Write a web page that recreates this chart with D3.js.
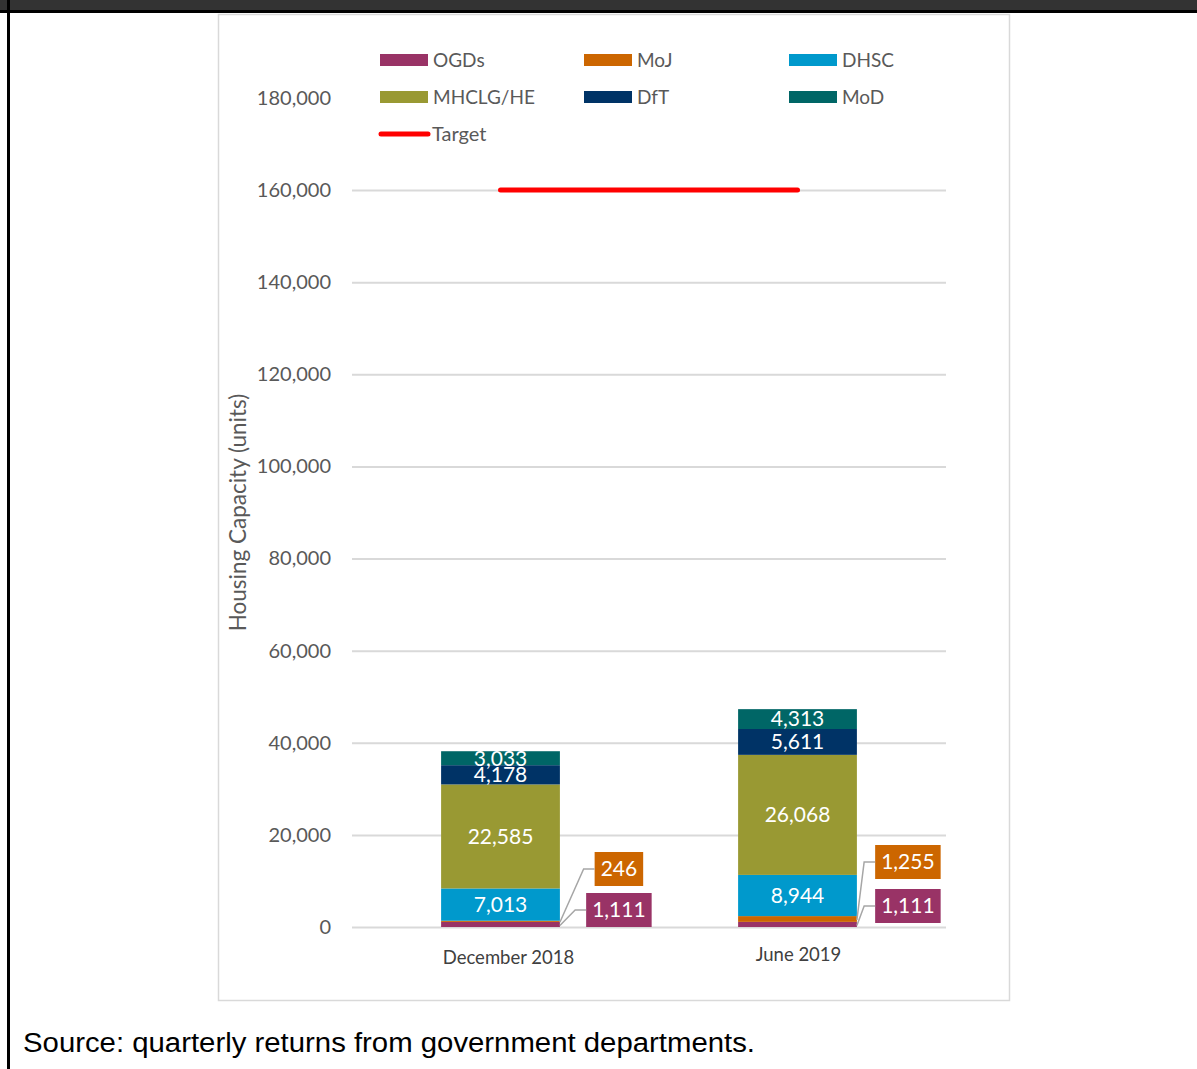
<!DOCTYPE html>
<html>
<head>
<meta charset="utf-8">
<script src="https://cdn.jsdelivr.net/npm/d3@7"></script>
<style>
  body { margin: 0; background: #fff; }
  svg { display: block; }
</style>
</head>
<body>
<div id="chart"></div>
<script>
// Chart data
const categories = ['December 2018', 'June 2019'];
const seriesNames = ['OGDs', 'MoJ', 'DHSC', 'MHCLG/HE', 'DfT', 'MoD'];
const ogdsValues = [1111, 1111];
const mojValues = [246, 1255];
const dhscValues = [7013, 8944];
const mhclgValues = [22585, 26068];
const dftValues = [4178, 5611];
const modValues = [3033, 4313];
const targetValue = 160000;
const yTickValues = [0, 20000, 40000, 60000, 80000, 100000, 120000, 140000, 160000, 180000];

const seriesColors = ['#993366', '#cc6600', '#0099cc', '#999933', '#003366', '#006666'];

// rows for the stack
const rows = categories.map((c, i) => ({
  category: c,
  'OGDs': ogdsValues[i],
  'MoJ': mojValues[i],
  'DHSC': dhscValues[i],
  'MHCLG/HE': mhclgValues[i],
  'DfT': dftValues[i],
  'MoD': modValues[i],
}));

const W = 1197, H = 1069;
const plot = { left: 352, right: 946, top: 98, bottom: 927 };
const FONT = 'Lato, "Open Sans", sans-serif';

const svg = d3.select('#chart').append('svg')
  .attr('width', W).attr('height', H);

// page frame
svg.append('rect').attr('x', 0).attr('y', 0).attr('width', W).attr('height', 10).attr('fill', '#333333');
svg.append('rect').attr('x', 0).attr('y', 10).attr('width', W).attr('height', 3).attr('fill', '#000');
svg.append('rect').attr('x', 7).attr('y', 0).attr('width', 3).attr('height', H).attr('fill', '#000');

// chart area border
svg.append('rect')
  .attr('x', 218.5).attr('y', 14.5).attr('width', 791).attr('height', 986)
  .attr('fill', '#fff').attr('stroke', '#d9d9d9').attr('stroke-width', 1.5);

const x = d3.scaleBand().domain(categories)
  .range([plot.left, plot.right]).paddingInner(0.6).paddingOuter(0.3);
const y = d3.scaleLinear().domain([0, 180000]).range([plot.bottom, plot.top]);

// gridlines + y tick labels
const yAxis = d3.axisLeft(y).tickValues(yTickValues)
  .tickSize(-(plot.right - plot.left)).tickPadding(21)
  .tickFormat(d3.format(','));
const gy = svg.append('g').attr('transform', `translate(${plot.left},0)`).call(yAxis);
gy.select('.domain').remove();
gy.selectAll('.tick line').attr('stroke', '#d9d9d9').attr('stroke-width', 2)
  .filter(d => d === 180000).remove();
gy.selectAll('.tick text').attr('fill', '#595959')
  .style('font-family', FONT).style('font-size', '20px');

// y axis title
svg.append('text')
  .attr('transform', `translate(246,${(plot.top + plot.bottom) / 2}) rotate(-90)`)
  .attr('text-anchor', 'middle')
  .attr('fill', '#595959')
  .style('font-family', FONT).style('font-size', '22.5px')
  .text('Housing Capacity (units)');

// stacked bars
const stacked = d3.stack().keys(seriesNames)(rows);
const color = d3.scaleOrdinal().domain(seriesNames).range(seriesColors);

const layers = svg.append('g').selectAll('g').data(stacked).join('g')
  .attr('fill', d => color(d.key));
layers.selectAll('rect').data(d => d).join('rect')
  .attr('x', d => x(d.data.category))
  .attr('width', x.bandwidth())
  .attr('y', d => y(d[1]))
  .attr('height', d => y(d[0]) - y(d[1]));

// labels inside bars (DHSC and up)
const inside = stacked.filter(s => ['DHSC', 'MHCLG/HE', 'DfT', 'MoD'].includes(s.key));
inside.forEach(s => {
  svg.append('g').selectAll('text').data(s).join('text')
    .attr('x', d => x(d.data.category) + x.bandwidth() / 2)
    .attr('y', d => (y(d[0]) + y(d[1])) / 2)
    .attr('dy', '0.35em')
    .attr('text-anchor', 'middle')
    .attr('fill', '#fff')
    .style('font-family', FONT).style('font-size', '21px')
    .text(d => d3.format(',')(d[1] - d[0]));
});

// callout labels for the thin OGDs / MoJ segments
const calloutCenterDx = [59, 51];          // box centre offset from bar right edge
const calloutDy = { 'MoJ': [-58, -65], 'OGDs': [-17, -21] }; // box centre offset from y(0)
['MoJ', 'OGDs'].forEach(key => {
  const s = stacked.find(t => t.key === key);
  s.forEach((d, i) => {
    const barRight = x(d.data.category) + x.bandwidth();
    const cx = barRight + calloutCenterDx[i];
    const cy = y(0) + calloutDy[key][i];
    const g = svg.append('g');
    const t = g.append('text')
      .attr('x', cx).attr('y', cy).attr('dy', '0.35em')
      .attr('text-anchor', 'middle').attr('fill', '#fff')
      .style('font-family', FONT).style('font-size', '21px')
      .text(d3.format(',')(d[1] - d[0]));
    const tw = t.node().getComputedTextLength();
    const bw = tw + 12, bh = 34;
    g.insert('rect', 'text')
      .attr('x', cx - bw / 2).attr('y', cy - bh / 2)
      .attr('width', bw).attr('height', bh)
      .attr('fill', color(key));
    const segMid = (y(d[0]) + y(d[1])) / 2;
    const bx = cx - bw / 2;
    g.append('path')
      .attr('d', `M${barRight},${segMid + 1} L${bx - 11},${cy} L${bx},${cy}`)
      .attr('fill', 'none').attr('stroke', '#a6a6a6').attr('stroke-width', 1.5);
  });
});

// target line
svg.append('line')
  .attr('x1', x(categories[0]) + x.bandwidth() / 2)
  .attr('x2', x(categories[1]) + x.bandwidth() / 2)
  .attr('y1', y(targetValue)).attr('y2', y(targetValue))
  .attr('stroke', '#ff0000').attr('stroke-width', 5).attr('stroke-linecap', 'round');

// x axis labels
const xLabelDx = [8, 1];
const xLabelY = [964, 961];
svg.append('g').selectAll('text').data(categories).join('text')
  .attr('x', (d, i) => x(d) + x.bandwidth() / 2 + xLabelDx[i])
  .attr('y', (d, i) => xLabelY[i])
  .attr('text-anchor', 'middle')
  .attr('fill', '#404040')
  .style('font-family', FONT).style('font-size', '18.5px')
  .text(d => d);

// legend
const legendCols = [380, 584, 789];
const legendRows = [60, 97];
const legend = svg.append('g');
seriesNames.forEach((name, i) => {
  const lx = legendCols[i % 3];
  const ly = legendRows[Math.floor(i / 3)];
  legend.append('rect').attr('x', lx).attr('y', ly - 6).attr('width', 48).attr('height', 12)
    .attr('fill', color(name));
  legend.append('text').attr('x', lx + 53).attr('y', ly).attr('dy', '0.35em')
    .attr('fill', '#595959').style('font-family', FONT).style('font-size', '19px')
    .text(name);
});
legend.append('line').attr('x1', 381).attr('x2', 428).attr('y1', 134).attr('y2', 134)
  .attr('stroke', '#ff0000').attr('stroke-width', 5).attr('stroke-linecap', 'round');
legend.append('text').attr('x', 432).attr('y', 134).attr('dy', '0.35em')
  .attr('fill', '#595959').style('font-family', FONT).style('font-size', '20px')
  .text('Target');

// source note
svg.append('text')
  .attr('x', 23).attr('y', 1052)
  .attr('fill', '#000')
  .style('font-family', '"Liberation Sans", Arial, sans-serif').style('font-size', '27px')
  .attr('textLength', 732).attr('lengthAdjust', 'spacingAndGlyphs')
  .text('Source: quarterly returns from government departments.');
</script>
</body>
</html>
